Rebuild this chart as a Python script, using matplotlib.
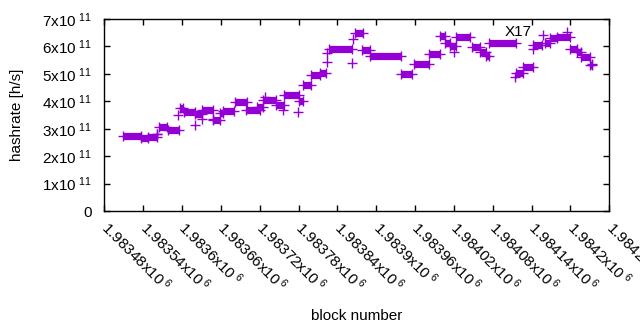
import numpy as np
import matplotlib
matplotlib.use('Agg')
import matplotlib.pyplot as plt

plt.rcParams['font.family'] = ['Liberation Sans', 'DejaVu Sans']
plt.rcParams['mathtext.fontset'] = 'custom'
plt.rcParams['mathtext.rm'] = 'Liberation Sans'
plt.rcParams['mathtext.it'] = 'Liberation Sans:italic'

# runs of blocks with (almost) the same hashrate, in units of 1e11 h/s
seg_start = [1983509, 1983536, 1983547, 1983561, 1983564, 1983578, 1983597, 1983603,
             1983620, 1983631, 1983648, 1983658, 1983663, 1983682, 1983699, 1983716,
             1983725, 1983745, 1983758, 1983780, 1983787, 1983800, 1983813, 1983827,
             1983867, 1983878, 1983890, 1983939, 1983958, 1983981, 1983998, 1984006,
             1984014, 1984024, 1984048, 1984060, 1984069, 1984074, 1984116, 1984126,
             1984142, 1984160, 1984168, 1984179, 1984199, 1984210, 1984217, 1984230]
seg_end = [1983536, 1983547, 1983561, 1983562, 1983577, 1983595, 1983601, 1983620,
           1983631, 1983648, 1983658, 1983663, 1983680, 1983700, 1983720, 1983725,
           1983745, 1983757, 1983780, 1983787, 1983800, 1983813, 1983823, 1983862,
           1983879, 1983890, 1983939, 1983956, 1983981, 1983998, 1984006, 1984014,
           1984024, 1984045, 1984060, 1984069, 1984074, 1984116, 1984126, 1984142,
           1984156, 1984168, 1984179, 1984199, 1984210, 1984217, 1984230, 1984234]
seg_rate = [2.74, 2.65, 2.68, 2.81, 3.08, 2.94, 3.76, 3.60,
            3.54, 3.67, 3.32, 3.58, 3.65, 3.96, 3.67, 3.80,
            4.05, 3.85, 4.23, 4.02, 4.58, 4.95, 5.04, 5.91,
            6.48, 5.88, 5.66, 4.99, 5.35, 5.71, 6.37, 6.13,
            6.02, 6.33, 5.97, 5.80, 5.66, 6.11, 5.02, 5.24,
            6.06, 6.13, 6.31, 6.33, 5.89, 5.79, 5.60, 5.33]

# single outlying blocks
pt_block = [1983594, 1983620, 1983631, 1983648, 1983728, 1983756, 1983779, 1983824,
            1983824, 1983862, 1983864, 1984020, 1984114, 1984142, 1984158, 1984194,
            1984233]
pt_rate = [3.50, 3.14, 3.36, 3.36, 4.16, 3.69, 3.61, 5.44,
           5.77, 5.40, 6.28, 5.80, 4.89, 5.91, 6.42, 6.53,
           5.37]

xticks = np.arange(1983480, 1984261, 60)
yticks = np.arange(0, 8)
color = '#9400d3'
fs = 11

fig = plt.figure(figsize=(6.4, 3.3), dpi=100)
ax = fig.add_axes([0.163, 0.3606, 0.789, 0.5818])

scale = 1e11
s0 = np.array(seg_start)
s1 = np.array(seg_end)
r = np.array(seg_rate) * scale

# dense runs show up as thick bands of '+' markers
ax.hlines(r, s0, s1, color=color, linewidth=5.2)
ax.plot(s0, r, '+', color=color, markersize=6.5, markeredgewidth=1.0)
ax.plot(s1, r, '+', color=color, markersize=6.5, markeredgewidth=1.0)
ax.plot(pt_block, np.array(pt_rate) * scale, '+', color=color,
        markersize=6.5, markeredgewidth=1.0)

ax.text(1984120, 6.53 * scale, 'X17', fontsize=fs, ha='center', va='center')

ax.set_xlim(1983480, 1984260)
ax.set_ylim(0, 7 * scale)

ax.set_xticks(xticks)
ax.set_xticklabels(['{:.6g}x10$^{{\\ 6}}$'.format(v / 1e6) for v in xticks],
                   rotation=-45, ha='left', va='center', rotation_mode='anchor',
                   fontsize=fs)
ax.set_yticks(yticks * scale)
ax.set_yticklabels(['0'] + ['{}x10$^{{\\ 11}}$'.format(v) for v in yticks[1:]],
                   fontsize=fs)

ax.tick_params(direction='in', top=True, right=True, length=4, width=1)
ax.tick_params(axis='x', pad=10)
ax.tick_params(axis='y', pad=9)
for sp in ax.spines.values():
    sp.set_linewidth(1)

ax.set_ylabel('hashrate [h/s]', fontsize=fs)
ax.yaxis.set_label_coords(-0.159, 0.5)
ax.set_xlabel('block number', fontsize=fs)
ax.xaxis.set_label_coords(0.5, -0.51)

fig.savefig('out.png', dpi=100)
